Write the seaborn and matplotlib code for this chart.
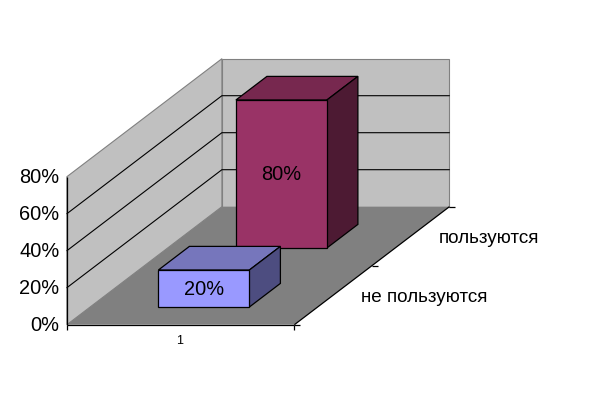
import matplotlib
matplotlib.use("Agg")
import matplotlib.pyplot as plt
from matplotlib.patches import Polygon
import seaborn as sns

categories = ["не пользуются", "пользуются"]
values = [20, 80]
bar_colors = ["#9999FF", "#993366"]
top_colors = ["#7676BC", "#77284F"]
side_colors = ["#4D4D80", "#4D1A33"]
value_ticks = [0, 20, 40, 60, 80]
x_label = "1"

W, H = 613, 411
X0, Y0 = 66.9, H - 324.7        # front-left floor corner
XLEN = 227.5                    # width of the floor
DX, DY = 155.0, 118.0           # depth vector
UNIT = 148.0 / 80.0             # pixels per percent
BAR_X = (0.3, 0.7)
BAR_D = (0.3, 0.7)


def P(x, d, v=0.0):
    return (X0 + x * XLEN + d * DX, Y0 + d * DY + v * UNIT)


sns.set_theme(style="white")
plt.rcParams["font.family"] = ["Liberation Sans", "DejaVu Sans"]
fig = plt.figure(figsize=(W / 100, H / 100), dpi=100, facecolor="white")
ax = fig.add_axes([0, 0, 1, 1])
ymax = value_ticks[-1]
nd = len(categories)


def poly(pts, fc, ec="black", lw=0.9, z=1):
    ax.add_patch(Polygon(pts, closed=True, facecolor=fc, edgecolor=ec, linewidth=lw,
                         zorder=z, joinstyle="miter"))


# walls and floor
poly([P(0, 0), P(0, 1), P(0, 1, ymax), P(0, 0, ymax)], "#C0C0C0", "#808080", 0.8, 1)
poly([P(0, 1), P(1, 1), P(1, 1, ymax), P(0, 1, ymax)], "#C0C0C0", "#808080", 0.8, 1)
poly([P(0, 0), P(1, 0), P(1, 1), P(0, 1)], "#808080", "none", 0, 1)

# gridlines
for t in value_ticks[1:-1]:
    pts = [P(0, 0, t), P(0, 1, t), P(1, 1, t)]
    ax.plot(*zip(*pts), color="black", lw=0.8, zorder=2, solid_joinstyle="miter")

# bars, back to front
for i in reversed(range(nd)):
    d0 = (i + BAR_D[0]) / nd
    d1 = (i + BAR_D[1]) / nd
    v = values[i]
    z = 5 + (nd - i) * 2
    xl, yb = P(BAR_X[0], d0)
    xr, _ = P(BAR_X[1], d0)
    n_before = len(ax.patches)
    sns.barplot(x=[(xl + xr) / 2], y=[v * UNIT], bottom=yb, width=xr - xl, native_scale=True,
                color=bar_colors[i], saturation=1, errorbar=None, edgecolor="black",
                linewidth=0.9, ax=ax, zorder=z + 1)
    for p in ax.patches[n_before:]:
        p.set_zorder(z + 1)
    poly([P(BAR_X[0], d0, v), P(BAR_X[1], d0, v), P(BAR_X[1], d1, v), P(BAR_X[0], d1, v)],
         top_colors[i], z=z)
    poly([P(BAR_X[1], d0), P(BAR_X[1], d1), P(BAR_X[1], d1, v), P(BAR_X[1], d0, v)],
         side_colors[i], z=z)
    cx, cy = P(0.5, d0, v / 2)
    ax.text(cx, cy - 1, f"{v}%", ha="center", va="center", fontsize=14.4, color="black",
            zorder=z + 2)

# axes lines and ticks
axis_kw = dict(color="black", lw=0.9, zorder=3, solid_capstyle="butt")
ax.plot(*zip(P(0, 0), P(0, 0, ymax)), **axis_kw)
ax.plot(*zip(P(0, 0), P(1, 0)), **axis_kw)
ax.plot(*zip(P(1, 0), P(1, 1)), **axis_kw)
for x in (0, 1):
    px, py = P(x, 0)
    ax.plot([px, px], [py, py - 5], **axis_kw)
for d in [k / nd for k in range(nd + 1)]:
    px, py = P(1, d)
    ax.plot([px, px + 6], [py, py], **axis_kw)

# tick labels
for t in value_ticks:
    px, py = P(0, 0, t)
    ax.text(px - 7.5, py - 1, f"{t}%", ha="right", va="center", fontsize=14.4, color="black")
px, py = P(0.5, 0)
ax.text(px - 1, py - 16, x_label, ha="center", va="center", fontsize=9, color="black")
for i, c in enumerate(categories):
    px, py = P(1, (i + 0.5) / nd)
    ax.text(px + 28, py - 1.8, c, ha="left", va="center", fontsize=13.6, color="black")

ax.set_xlim(0, W)
ax.set_ylim(0, H)
ax.set_axis_off()
fig.savefig("out.png", dpi=100, facecolor="white")
